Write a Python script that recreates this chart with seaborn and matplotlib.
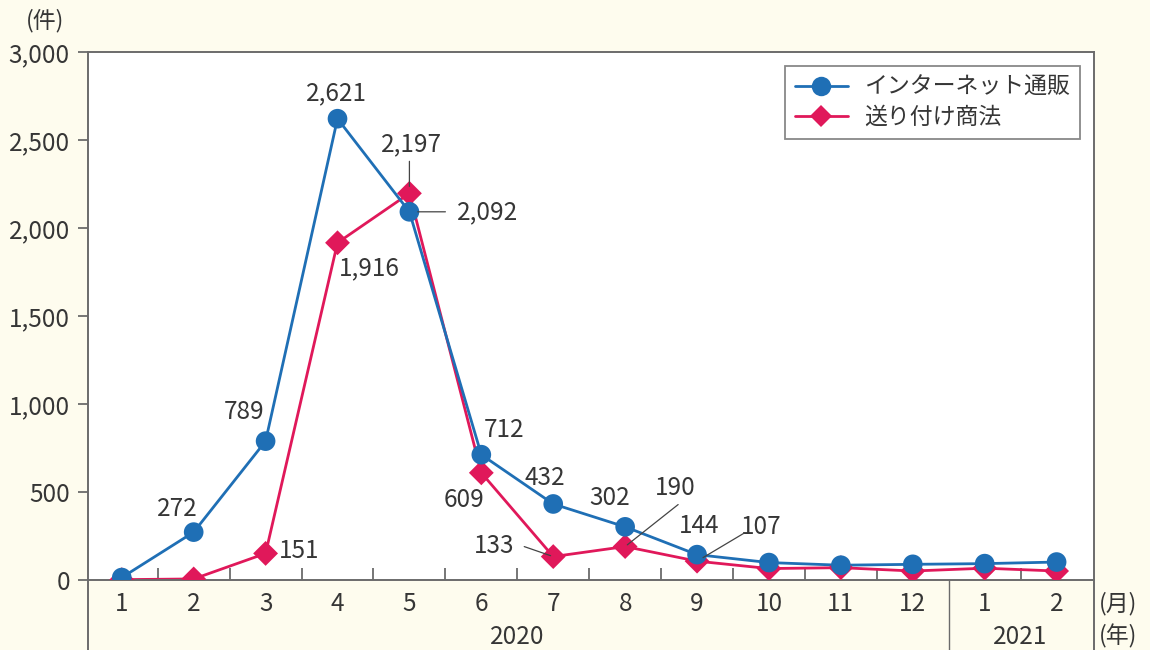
import matplotlib
matplotlib.use("Agg")
import matplotlib.pyplot as plt
from matplotlib.lines import Line2D
from matplotlib.transforms import blended_transform_factory
import seaborn as sns
import pandas as pd
import numpy as np

# Monthly consultation counts
months = ["1", "2", "3", "4", "5", "6", "7", "8", "9", "10", "11", "12", "1", "2"]
years = ["2020", "2021"]
series_names = ["インターネット通販", "送り付け商法"]
net_sales = [14, 272, 789, 2621, 2092, 712, 432, 302, 144, 99, 84, 89, 93, 102]
unsolicited = [2, 6, 151, 1916, 2197, 609, 133, 190, 107, 65, 70, 51, 67, 51]
y_ticks = [0, 500, 1000, 1500, 2000, 2500, 3000]

BLUE = "#1f6fb5"
PINK = "#e0185a"
TEXT = "#363636"
FRAME = "#6b6b6b"
BG = "#fefcee"
FS = 17.5

sns.set_theme(style="white")
plt.rcParams["font.family"] = ["Noto Sans CJK JP", "DejaVu Sans"]

idx = np.arange(len(months))
df = pd.DataFrame({
    "idx": np.concatenate([idx, idx]),
    "count": net_sales + unsolicited,
    "series": [series_names[0]] * len(idx) + [series_names[1]] * len(idx),
})
df_net = df[df["series"] == series_names[0]]
df_uns = df[df["series"] == series_names[1]]

fig = plt.figure(figsize=(11.5, 6.5), dpi=100, facecolor=BG)
ax = fig.add_axes([0.0765, 0.1077, 0.8748, 0.8123])
ax.set_facecolor("white")

# lines first, markers on top
sns.lineplot(data=df_uns, x="idx", y="count", color=PINK, linewidth=2.0, ax=ax, zorder=2)
sns.lineplot(data=df_net, x="idx", y="count", color=BLUE, linewidth=2.0, ax=ax, zorder=3)
sns.scatterplot(data=df_uns, x="idx", y="count", color=PINK, marker="D", s=160,
                edgecolor="none", ax=ax, zorder=4, legend=False)
sns.scatterplot(data=df_net, x="idx", y="count", color=BLUE, marker="o", s=200,
                edgecolor="none", ax=ax, zorder=5, legend=False)

ax.set_xlim(-0.47, 13.52)
ax.set_ylim(0, 3000)
ax.set_xlabel("")
ax.set_ylabel("")

ax.set_yticks(y_ticks)
ax.set_yticklabels([f"{v:,}" for v in y_ticks], fontsize=FS, color=TEXT)
ax.tick_params(axis="y", direction="out", length=7, width=1.3, color=FRAME, pad=6, left=True)

ax.set_xticks(idx)
ax.set_xticklabels(months, fontsize=FS, color=TEXT)
ax.tick_params(axis="x", length=0, pad=8)
minor = [i + 0.5 for i in range(len(months) - 1) if i != 11]
ax.set_xticks(minor, minor=True)
ax.tick_params(axis="x", which="minor", direction="in", length=9, width=1.3,
               color=FRAME, bottom=True)

for s in ax.spines.values():
    s.set_color(FRAME)
    s.set_linewidth(1.4)

# frame lines continuing below the axis, and the year divider
tr = blended_transform_factory(ax.transData, ax.transAxes)
for xv in (-0.47, 11.5, 13.52):
    ax.plot([xv, xv], [0, -0.2], transform=tr, color=FRAME, lw=1.4 if xv != 11.5 else 1.0,
            clip_on=False, zorder=1)

# year labels and units
ax.text(5.5, -0.108, years[0], transform=tr, ha="center", va="center", fontsize=FS, color=TEXT)
ax.text(12.5, -0.108, years[1], transform=tr, ha="center", va="center", fontsize=FS, color=TEXT)
fig.text(1118 / 1150, 1 - 604 / 650, "(月)", ha="center", va="center", fontsize=16.5, color=TEXT)
fig.text(1118 / 1150, 1 - 636 / 650, "(年)", ha="center", va="center", fontsize=16.5, color=TEXT)
fig.text(45 / 1150, 1 - 21 / 650, "(件)", ha="center", va="center", fontsize=16.5, color=TEXT)

# value labels: (series values, index, text offset px, leader start px / end shrink pt)
labels = [
    (net_sales, 1, (-16, 23), None),
    (net_sales, 2, (-22, 29), None),
    (net_sales, 3, (-1, 25), None),
    (net_sales, 4, (78, 0), ((36, 0), 6)),
    (net_sales, 5, (23, 25), None),
    (net_sales, 6, (-8, 26), None),
    (net_sales, 7, (-15, 29), None),
    (net_sales, 8, (2, 29), None),
    (unsolicited, 2, (34, 2), None),
    (unsolicited, 3, (32, -25), None),
    (unsolicited, 4, (2, 49), ((0, 32), 5)),
    (unsolicited, 5, (-17, -27), None),
    (unsolicited, 6, (-59, 11), ((-29, 10), 2)),
    (unsolicited, 7, (50, 59), ((53, 42), 2)),
    (unsolicited, 8, (64, 34), ((47, 28), 5)),
]
for vals, i, off, leader in labels:
    v = vals[i]
    ax.annotate(f"{v:,}", xy=(i, v), xytext=off, textcoords="offset pixels",
                ha="center", va="center", fontsize=FS, color=TEXT, zorder=6)
    if leader is not None:
        start, shrink = leader
        ax.annotate("", xy=(i, v), xytext=start, textcoords="offset pixels",
                    arrowprops=dict(arrowstyle="-", color="#444444", lw=0.9,
                                    shrinkA=0, shrinkB=shrink), zorder=6)

handles = [
    Line2D([], [], color=BLUE, lw=2.0, marker="o", markersize=14, markeredgewidth=0),
    Line2D([], [], color=PINK, lw=2.0, marker="D", markersize=11.5, markeredgewidth=0),
]
leg = ax.legend(handles, series_names, loc="upper right", bbox_to_anchor=(0.986, 0.974),
                borderaxespad=0, fontsize=16.5, frameon=True, fancybox=False,
                handlelength=2.3, borderpad=0.45, labelspacing=0.3, handletextpad=0.7)
leg.get_frame().set_edgecolor(FRAME)
leg.get_frame().set_linewidth(1.3)
for t in leg.get_texts():
    t.set_color(TEXT)

fig.savefig("out.png", dpi=100, facecolor=BG)
